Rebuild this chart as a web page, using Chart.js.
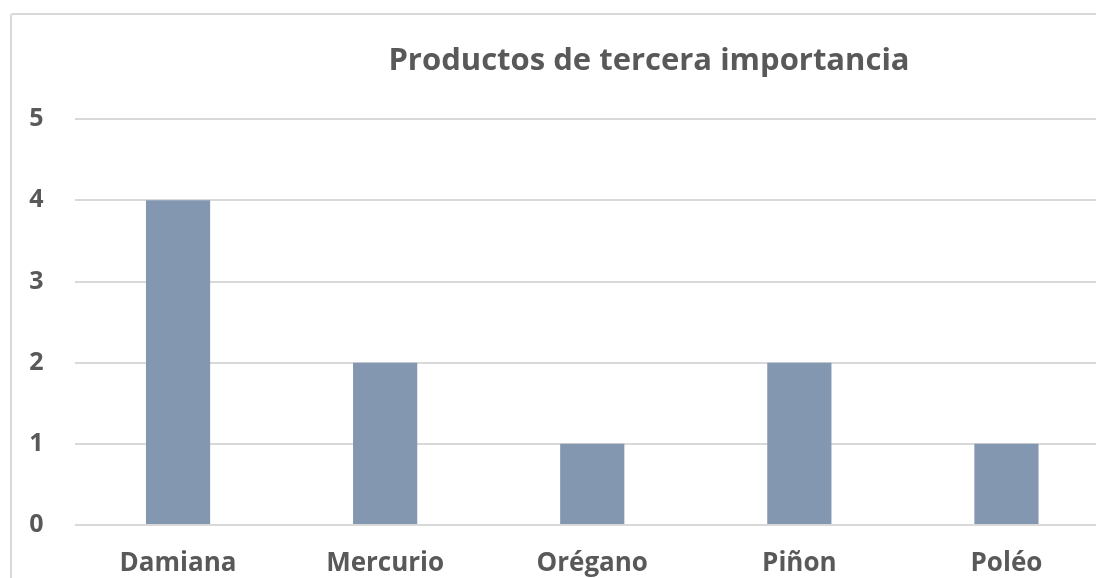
<!DOCTYPE html>
<html>
<head>
<meta charset="utf-8">
<script src="https://cdn.jsdelivr.net/npm/chart.js@4"></script>
<style>
  body { margin: 0; background: #fff; overflow: hidden; width: 1096px; height: 578px; }
  #box { position: absolute; left: 10px; top: 13px; width: 1274px; height: 620px; border: 2px solid #d9d9d9; border-radius: 3px; }
</style>
</head>
<body>
<div id="box"><canvas id="chart" width="1274" height="620"></canvas></div>
<script>
const categories = ["Damiana", "Mercurio", "Orégano", "Piñon", "Poléo"];
const values = [4, 2, 1, 2, 1];
const yTicks = [0, 1, 2, 3, 4, 5];
const chartTitle = "Productos de tercera importancia";

const ctx = document.getElementById("chart").getContext("2d");

new Chart(ctx, {
  type: "bar",
  data: {
    labels: categories,
    datasets: [
      {
        label: "Productos",
        data: values,
        backgroundColor: "#8497b0",
        barPercentage: 0.31,
        categoryPercentage: 1
      }
    ]
  },
  options: {
    responsive: false,
    animation: false,
    plugins: {
      legend: { display: false },
      tooltip: { enabled: false },
      title: {
        display: true,
        text: chartTitle,
        color: "#595959",
        font: { family: "Open Sans", size: 31, weight: "bold" },
        padding: { top: 28, bottom: 39 }
      }
    },
    scales: {
      x: {
        grid: { display: false, drawTicks: false },
        border: { display: false },
        ticks: {
          color: "#595959",
          font: { family: "Open Sans", size: 26, weight: "bold" },
          padding: 23
        },
        afterFit: scale => { scale.height = 110; }
      },
      y: {
        min: 0,
        max: 5,
        afterBuildTicks: scale => { scale.ticks = yTicks.map(v => ({ value: v })); },
        grid: { color: "#d9d9d9", lineWidth: 2, drawTicks: false },
        border: { display: false },
        ticks: {
          color: "#595959",
          font: { family: "Open Sans", size: 25, weight: "bold" },
          padding: 31
        },
        afterFit: scale => { scale.width = 62.5; }
      },
      // empty space on the right, past the window edge
      pad: {
        type: "linear",
        position: "right",
        grid: { display: false, drawTicks: false },
        border: { display: false },
        ticks: { display: false },
        afterFit: scale => { scale.width = 176; }
      }
    }
  }
});
</script>
</body>
</html>
